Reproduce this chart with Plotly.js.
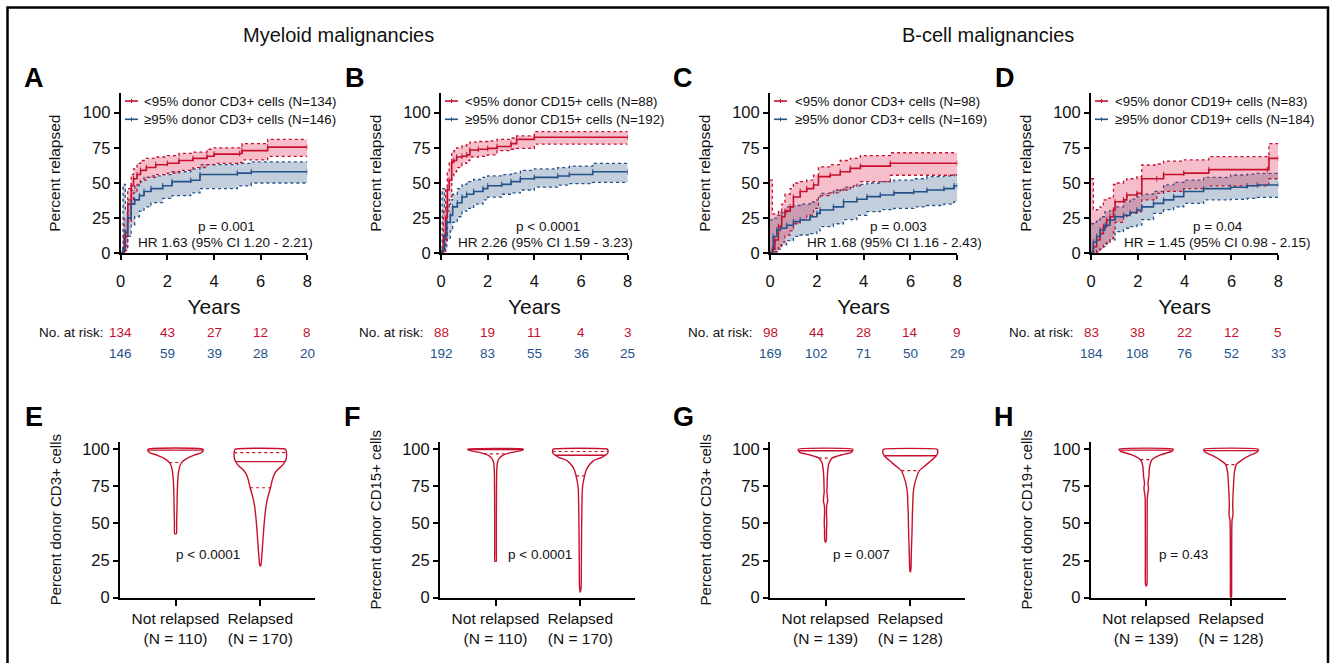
<!DOCTYPE html>
<html><head><meta charset="utf-8">
<script src="https://cdn.plot.ly/plotly-3.0.1.min.js"></script>
<style>html,body{margin:0;padding:0;background:#fff}#chart{width:1331px;height:663px}</style>
</head><body><div id="chart"></div>
<script>
// ---------- Cumulative incidence data (time in years, percent relapsed) ----------
// Panel A – myeloid, CD3+
const aRedT   = [0, 0.15, 0.3, 0.45, 0.55, 0.7, 0.85, 1.1, 1.5, 2.0, 2.5, 3.1, 3.7, 4.0, 5.1, 5.2, 6.3, 8.0];
const aRedEst = [0, 12, 35, 48, 53, 56, 59, 61, 63, 64, 66, 67.5, 69, 70.5, 71, 73, 75.5, 75.5];
const aRedLo  = [0, 2, 22, 35, 43, 49, 52, 54, 56, 57, 59, 61, 63, 64, 64.5, 66.5, 69, 69];
const aRedHi  = [0, 25, 46, 56, 60, 64, 66, 67.5, 68.5, 69.5, 71, 72, 74, 75, 76, 78, 81, 81];
const aBluT   = [0, 0.1, 0.2, 0.3, 0.45, 0.6, 0.8, 1.0, 1.3, 1.8, 2.2, 3.0, 3.4, 5.0, 5.6, 8.0];
const aBluEst = [0, 3, 15, 25, 35, 38, 41, 44, 46, 48, 51, 52, 56, 57, 58, 58];
const aBluLo  = [0, 0, 5, 12, 20, 26, 30, 33, 36, 39, 41, 43, 46, 48, 50, 50];
const aBluHi  = [0, 49, 30, 38, 45, 48, 51, 54, 55, 56, 58, 60, 63, 64, 65, 65];
// Panel B – myeloid, CD15+
const bRedT   = [0, 0.1, 0.2, 0.27, 0.35, 0.46, 0.55, 0.67, 0.9, 1.1, 1.24, 1.6, 2.0, 2.4, 3.0, 3.24, 4.0, 8.0];
const bRedEst = [0, 10, 25, 45, 52, 65, 66, 68.5, 69, 70, 73.5, 74, 74.6, 76, 78, 81, 82.5, 82.5];
const bRedLo  = [0, 0, 8, 30, 40, 55, 58, 61, 64, 66, 68.5, 69, 70, 73, 74, 74.6, 77.7, 77.7];
const bRedHi  = [0, 30, 45, 58, 65, 72, 73, 75, 76.5, 78, 79, 79.5, 80, 81, 82, 83.5, 86.5, 86.5];
const bBluT   = [0, 0.05, 0.15, 0.25, 0.4, 0.5, 0.7, 0.9, 1.1, 1.4, 1.8, 2.0, 2.6, 3.0, 3.4, 4.0, 5.0, 5.5, 6.5, 8.0];
const bBluEst = [0, 2, 12, 22, 27, 33, 36, 40, 42, 44, 46, 48, 49, 51, 53, 54, 55, 56, 58, 58];
const bBluLo  = [0, 0, 3, 10, 16, 22, 26, 30, 32, 35, 38, 40, 42, 43, 45, 47, 48.5, 49.5, 50.5, 51];
const bBluHi  = [0, 46, 30, 35, 38, 42, 46, 49, 51, 52.5, 54, 55, 56, 57, 59, 60, 61, 62, 64, 64];
// Panel C – B-cell, CD3+
const cRedT   = [0, 0.1, 0.21, 0.36, 0.5, 0.64, 0.86, 1.0, 1.29, 1.57, 1.86, 2.07, 2.57, 3.0, 3.43, 3.86, 5.14, 8.0];
const cRedEst = [0, 3, 9.5, 19, 26, 30, 33, 40, 44, 46, 48.6, 54.5, 55.7, 58, 60.4, 62, 64, 64];
const cRedLo  = [0, 0, 1, 4, 8, 13, 16, 21, 24, 27, 32, 41, 43, 45, 48, 51, 55.5, 55.5];
const cRedHi  = [52, 28, 28, 30, 35, 42, 46, 50, 51, 52, 55.5, 61.5, 63, 66, 67.5, 69.5, 71.5, 71.5];
const cBluT   = [0, 0.14, 0.29, 0.45, 0.71, 1.0, 1.29, 1.71, 2.0, 2.14, 2.71, 3.14, 3.71, 4.14, 4.71, 5.29, 6.14, 6.7, 7.43, 7.86, 8.0];
const cBluEst = [0, 12, 16.6, 17.8, 20, 22.5, 23.7, 26, 28.4, 30.8, 33, 36.7, 38.4, 40.3, 41.5, 43, 43.8, 45, 46, 48, 48];
const cBluLo  = [0, 1, 3, 6, 9, 12, 13, 14, 16, 19, 21, 24, 27, 29.6, 31, 32, 33, 34, 35, 36.7, 37];
const cBluHi  = [23.7, 25, 27, 29, 33, 34, 35, 36.5, 38, 42.6, 45, 47, 49, 50, 51, 52, 53, 54.5, 55, 56, 56];
// Panel D – B-cell, CD19+
const dRedT   = [0, 0.1, 0.24, 0.39, 0.53, 0.67, 0.81, 0.96, 1.03, 1.39, 1.53, 1.96, 2.17, 2.81, 3.1, 3.96, 5.03, 7.53, 7.6, 8.0];
const dRedEst = [0, 4.7, 9.5, 14, 19, 23.7, 26, 30.8, 36.7, 38, 41.5, 42.6, 53, 53, 56, 57, 59.5, 59.5, 67.5, 67.5];
const dRedLo  = [0, 0, 1, 3, 6, 8, 10.7, 16.6, 22, 26, 28.4, 29.6, 38, 42.6, 44, 46, 48, 48, 53, 53];
const dRedHi  = [53, 30.8, 31, 33, 38, 39, 40, 49, 50, 52, 53, 54.5, 62.8, 63.5, 65.5, 66.4, 68.7, 68.7, 78, 78];
const dBluT   = [0, 0.1, 0.24, 0.39, 0.6, 0.81, 1.03, 1.39, 1.67, 1.96, 2.17, 2.67, 3.1, 3.53, 3.96, 4.81, 5.96, 6.67, 7.1, 8.0];
const dBluEst = [0, 8, 12, 16.6, 20, 23.7, 26, 27, 29, 30.8, 33, 35.5, 38, 40.3, 44, 46, 47, 48, 48.6, 49];
const dBluLo  = [0, 0, 2, 4.7, 7, 9.5, 15.4, 17.8, 19, 20, 24, 28.4, 31, 33, 35.5, 38, 38.4, 39, 39.8, 40.5];
const dBluHi  = [21, 22, 23.7, 26, 29.6, 31, 33, 36.7, 38.5, 40.3, 42, 44, 48.6, 50.5, 52, 54, 55.7, 56.3, 56.9, 57];

// Number at risk
const riskTimes = [0, 2, 4, 6, 8];
const aRiskRed = [134, 43, 27, 12, 8],  aRiskBlu = [146, 59, 39, 28, 20];
const bRiskRed = [88, 19, 11, 4, 3],    bRiskBlu = [192, 83, 55, 36, 25];
const cRiskRed = [98, 44, 28, 14, 9],   cRiskBlu = [169, 102, 71, 50, 29];
const dRiskRed = [83, 38, 22, 12, 5],   dRiskBlu = [184, 108, 76, 52, 33];

// Legend labels
const aNames = ['&lt;95% donor CD3+ cells (N=134)', '≥95% donor CD3+ cells (N=146)'];
const bNames = ['&lt;95% donor CD15+ cells (N=88)', '≥95% donor CD15+ cells (N=192)'];
const cNames = ['&lt;95% donor CD3+ cells (N=98)', '≥95% donor CD3+ cells (N=169)'];
const dNames = ['&lt;95% donor CD19+ cells (N=83)', '≥95% donor CD19+ cells (N=184)'];
const pTexts  = ['p = 0.001', 'p &lt; 0.0001', 'p = 0.003', 'p = 0.04'];
const hrTexts = ['HR 1.63 (95% CI 1.20 - 2.21)', 'HR 2.26 (95% CI 1.59 - 3.23)', 'HR 1.68 (95% CI 1.16 - 2.43)', 'HR = 1.45 (95% CI 0.98 - 2.15)'];

// ---------- Violin profiles (percent donor cells, half-width in category units) ----------
const eNotY = [43, 50, 60, 70, 78, 82, 86, 88.5, 91.5, 94, 96, 97.5, 98.7, 100];
const eNotW = [0.01, 0.013, 0.017, 0.02, 0.025, 0.03, 0.04, 0.05, 0.08, 0.14, 0.22, 0.3, 0.325, 0.32];
const eRelY = [21.5, 24, 30, 38, 46, 54, 62, 68, 74, 79, 83, 86, 88.5, 91, 93.5, 96.5, 99, 100];
const eRelW = [0.005, 0.012, 0.02, 0.03, 0.04, 0.052, 0.068, 0.09, 0.12, 0.14, 0.165, 0.2, 0.25, 0.285, 0.305, 0.31, 0.305, 0.295];
const fNotY = [24.5, 30, 50, 70, 85, 90, 93, 95.5, 97.5, 98.8, 99.5, 100];
const fNotW = [0.008, 0.01, 0.01, 0.011, 0.014, 0.02, 0.035, 0.075, 0.17, 0.28, 0.325, 0.327];
const fRelY = [4, 8, 20, 35, 50, 62, 70, 75, 82, 86, 89, 92.3, 94.5, 96, 97.6, 99, 100];
const fRelW = [0.003, 0.01, 0.012, 0.014, 0.016, 0.019, 0.022, 0.027, 0.05, 0.07, 0.1, 0.157, 0.255, 0.3, 0.325, 0.327, 0.32];
const gNotY = [37.5, 40, 45, 50, 53, 57, 62, 65, 68, 71, 75, 80, 86, 90.5, 94, 96.3, 97.7, 99, 100];
const gNotW = [0.004, 0.011, 0.011, 0.015, 0.014, 0.011, 0.014, 0.025, 0.022, 0.016, 0.018, 0.02, 0.027, 0.04, 0.08, 0.2, 0.3, 0.32, 0.32];
const gRelY = [17.5, 20, 30, 44, 55, 65, 71, 77.5, 82, 85.5, 88.9, 92.3, 95, 97.5, 99.2, 100];
const gRelW = [0.003, 0.008, 0.012, 0.02, 0.024, 0.03, 0.035, 0.055, 0.08, 0.106, 0.176, 0.245, 0.3, 0.323, 0.323, 0.31];
const hNotY = [8, 10, 30, 50, 66, 69, 73.7, 77, 81.6, 88.4, 92.9, 96.3, 98.5, 100];
const hNotW = [0.004, 0.01, 0.01, 0.011, 0.012, 0.016, 0.027, 0.02, 0.031, 0.04, 0.067, 0.176, 0.3, 0.32];
const hRelY = [0, 10, 30, 45, 52, 56, 62, 73, 84.4, 90, 92.3, 95.6, 97.7, 99, 100];
const hRelW = [0.005, 0.007, 0.008, 0.009, 0.012, 0.024, 0.02, 0.027, 0.04, 0.067, 0.118, 0.216, 0.3, 0.32, 0.32];
// [lower quartile, median, upper quartile]
const eNotQ = [91, 99.3, null], eRelQ = [74, 91.6, 97.7];
const fNotQ = [96.8, 99.7, null], fRelQ = [82, 95.9, 98.4];
const gNotQ = [93.9, 98.9, null], gRelQ = [85.5, 95.5, null];
const hNotQ = [93, 99.3, null], hRelQ = [89.6, 99, null];
const violinCats = ['Not relapsed', 'Relapsed'];
const efN = [110, 170], ghN = [139, 128];
const violinTitles = ['Percent donor CD3+ cells', 'Percent donor CD15+ cells', 'Percent donor CD3+ cells', 'Percent donor CD19+ cells'];
const violinP = ['p &lt; 0.0001', 'p &lt; 0.0001', 'p = 0.007', 'p = 0.43'];

// ---------- Styling / layout ----------
const W = 1331, H = 663;
const px = x => x / W, py = y => 1 - y / H;
const FONT = 'Liberation Sans, Arial, Helvetica, sans-serif';
const RED = '#c8102e', BLUE = '#24538a';
const RED_FILL = 'rgba(222,40,80,0.30)', BLUE_FILL = 'rgba(40,80,130,0.28)';

const traces = [];
function band(t, lo, hi, color, fill, n) {
  traces.push({x: t, y: lo, xaxis: 'x' + n, yaxis: 'y' + n, mode: 'lines', showlegend: false, hoverinfo: 'skip',
    line: {shape: 'hv', color: color, width: 1.3, dash: 'dot'}});
  traces.push({x: t, y: hi, xaxis: 'x' + n, yaxis: 'y' + n, mode: 'lines', showlegend: false, hoverinfo: 'skip',
    fill: 'tonexty', fillcolor: fill, line: {shape: 'hv', color: color, width: 1.3, dash: 'dot'}});
}
function est(t, e, color, n, name) {
  traces.push({x: t, y: e, xaxis: 'x' + n, yaxis: 'y' + n, mode: 'lines+markers', name: name, showlegend: false,
    line: {shape: 'hv', color: color, width: 1.6},
    marker: {symbol: 'line-ns', size: 4, color: color, line: {color: color, width: 1}}});
}
const km = [
  ['', aRedT, aRedEst, aRedLo, aRedHi, aBluT, aBluEst, aBluLo, aBluHi, aNames],
  ['2', bRedT, bRedEst, bRedLo, bRedHi, bBluT, bBluEst, bBluLo, bBluHi, bNames],
  ['3', cRedT, cRedEst, cRedLo, cRedHi, cBluT, cBluEst, cBluLo, cBluHi, cNames],
  ['4', dRedT, dRedEst, dRedLo, dRedHi, dBluT, dBluEst, dBluLo, dBluHi, dNames]
];
km.forEach(k => {
  band(k[5], k[7], k[8], BLUE, BLUE_FILL, k[0]);
  band(k[1], k[3], k[4], RED, RED_FILL, k[0]);
  est(k[1], k[2], RED, k[0], k[9][0]);
  est(k[5], k[6], BLUE, k[0], k[9][1]);
});

function interp(yv, Y, Wd) {
  if (yv <= Y[0]) return Wd[0];
  for (let i = 1; i < Y.length; i++) {
    if (yv <= Y[i]) { const f = (yv - Y[i-1]) / (Y[i] - Y[i-1]); return Wd[i-1] + f * (Wd[i] - Wd[i-1]); }
  }
  return Wd[Wd.length - 1];
}
function violin(Y, Wd, Q, c, n, name) {
  const xs = [], ys = [];
  for (let i = 0; i < Y.length; i++) { xs.push(c + Wd[i]); ys.push(Y[i]); }
  for (let i = Y.length - 1; i >= 0; i--) { xs.push(c - Wd[i]); ys.push(Y[i]); }
  xs.push(xs[0]); ys.push(ys[0]);
  traces.push({x: xs, y: ys, xaxis: 'x' + n, yaxis: 'y' + n, mode: 'lines', fill: 'toself', fillcolor: '#ffffff', name: name,
    showlegend: false, hoverinfo: 'skip', line: {color: RED, width: 1.4, shape: 'spline', smoothing: 0.5}});
  Q.forEach((q, i) => {
    if (q === null) return;
    const w = interp(q, Y, Wd);
    traces.push({x: [c - w, c + w], y: [q, q], xaxis: 'x' + n, yaxis: 'y' + n, mode: 'lines', showlegend: false, hoverinfo: 'skip',
      line: {color: RED, width: i === 1 ? 1.4 : 1.2, dash: i === 1 ? 'solid' : 'dot'}});
  });
}
violin(eNotY, eNotW, eNotQ, 0, '5', violinCats[0]); violin(eRelY, eRelW, eRelQ, 1, '5', violinCats[1]);
violin(fNotY, fNotW, fNotQ, 0, '6', violinCats[0]); violin(fRelY, fRelW, fRelQ, 1, '6', violinCats[1]);
violin(gNotY, gNotW, gNotQ, 0, '7', violinCats[0]); violin(gRelY, gRelW, gRelQ, 1, '7', violinCats[1]);
violin(hNotY, hNotW, hNotQ, 0, '8', violinCats[0]); violin(hRelY, hRelW, hRelQ, 1, '8', violinCats[1]);

const axBase = {showline: true, linecolor: '#000', linewidth: 2, ticks: 'outside', ticklen: 5, tickwidth: 2, tickcolor: '#000',
  showgrid: false, zeroline: false, fixedrange: true, tickfont: {family: FONT, size: 16.5, color: '#111'}};
const topXDom = [[120.7, 307.3], [441, 627.7], [770, 957.3], [1091, 1278.3]];
const botXDom = [[120, 315], [440, 635], [770, 965], [1090.7, 1285.7]];
const layout = {width: W, height: H, margin: {l: 0, r: 0, t: 0, b: 0}, paper_bgcolor: '#fff', plot_bgcolor: 'rgba(0,0,0,0)',
  font: {family: FONT, color: '#111'}, showlegend: false, annotations: [], shapes: []};
const sfx = ['', '2', '3', '4', '5', '6', '7', '8'];
topXDom.forEach((d, i) => {
  layout['xaxis' + sfx[i]] = Object.assign({}, axBase, {domain: [px(d[0]), px(d[1])], range: [0, 8], tickvals: [0, 2, 4, 6, 8],
    anchor: 'y' + sfx[i], ticklabelstandoff: 7,
    title: {text: 'Years', font: {family: FONT, size: 21, color: '#111'}, standoff: 10}});
  layout['yaxis' + sfx[i]] = Object.assign({}, axBase, {domain: [py(253.3), py(93)], range: [0, 114], tickvals: [0, 25, 50, 75, 100],
    anchor: 'x' + sfx[i], title: {text: 'Percent relapsed', font: {family: FONT, size: 15.5, color: '#111'}, standoff: 18}});
});
botXDom.forEach((d, i) => {
  const N = i < 2 ? efN : ghN;
  layout['xaxis' + sfx[i + 4]] = Object.assign({}, axBase, {domain: [px(d[0]), px(d[1])], range: [-0.655, 1.645], tickvals: [0, 1],
    ticktext: violinCats.map((c, j) => c + '<br>(N = ' + N[j] + ')'), ticklen: 6, anchor: 'y' + sfx[i + 4],
    tickfont: {family: FONT, size: 15.5, color: '#111'}});
  layout['yaxis' + sfx[i + 4]] = Object.assign({}, axBase, {domain: [py(597.7), py(441.7)], range: [0, 105], tickvals: [0, 25, 50, 75, 100],
    anchor: 'x' + sfx[i + 4], title: {text: violinTitles[i], font: {family: FONT, size: 15, color: '#111'}, standoff: 17}});
});

const A = layout.annotations, S = layout.shapes;
function txt(x, y, text, size, opts) {
  A.push(Object.assign({xref: 'paper', yref: 'paper', x: px(x), y: py(y), text: text, showarrow: false,
    font: {family: FONT, size: size, color: '#111'}, xanchor: 'center', yanchor: 'middle'}, opts || {}));
}
txt(338, 35, 'Myeloid malignancies', 20);
txt(988, 35, 'B-cell malignancies', 20);
[['A', 34, 78], ['B', 355, 78], ['C', 683, 78], ['D', 1005, 78], ['E', 34, 417], ['F', 352, 417], ['G', 683, 417], ['H', 1004, 417]]
  .forEach(l => txt(l[1], l[2], '<b>' + l[0] + '</b>', 27, {font: {family: FONT, size: 27, color: '#000'}}));
[226.7, 548, 898, 1217.7].forEach((x, i) => txt(x, 226.5, pTexts[i], 13.5));
[315, 635, 984, 1311.7].forEach((x, i) => txt(x, 242.7, hrTexts[i], 13.5, {xanchor: 'right'}));
[106, 425.7, 755, 1076].forEach(x => txt(x, 332.7, 'No. at risk:', 13.5, {xanchor: 'right'}));
[[aRiskRed, aRiskBlu], [bRiskRed, bRiskBlu], [cRiskRed, cRiskBlu], [dRiskRed, dRiskBlu]].forEach((r, i) => {
  riskTimes.forEach((t, j) => {
    A.push({xref: 'x' + sfx[i], yref: 'paper', x: t, y: py(332.7), text: String(r[0][j]), showarrow: false,
      font: {family: FONT, size: 13.5, color: RED}, xanchor: 'center', yanchor: 'middle'});
    A.push({xref: 'x' + sfx[i], yref: 'paper', x: t, y: py(353.3), text: String(r[1][j]), showarrow: false,
      font: {family: FONT, size: 13.5, color: BLUE}, xanchor: 'center', yanchor: 'middle'});
  });
});
[208, 540, 861.7, 1183].forEach((x, i) => txt(x, 554, violinP[i], 13.5));

// legends (line sample with censor tick + label)
const legendNames = [aNames, bNames, cNames, dNames];
[[125, 142], [445, 462.7], [774, 792.7], [1095, 1113.3]].forEach((p, i) => {
  [[RED, 101], [BLUE, 119.3]].forEach((c, j) => {
    S.push({type: 'line', xref: 'paper', yref: 'paper', x0: px(p[0]), x1: px(p[0] + 13), y0: py(c[1]), y1: py(c[1]),
      line: {color: c[0], width: 1.6}});
    S.push({type: 'line', xref: 'paper', yref: 'paper', x0: px(p[0] + 6.5), x1: px(p[0] + 6.5), y0: py(c[1] - 2), y1: py(c[1] + 2),
      line: {color: c[0], width: 1}});
    txt(p[1], c[1], legendNames[i][j], 13.3, {xanchor: 'left'});
  });
});

S.push({type: 'rect', xref: 'paper', yref: 'paper', x0: px(7.5), x1: px(1328), y0: py(700), y1: py(7.5),
  line: {color: '#000', width: 2.5}, fillcolor: 'rgba(0,0,0,0)', layer: 'above'});

Plotly.newPlot('chart', traces, layout, {displayModeBar: false, staticPlot: true});
</script></body></html>
